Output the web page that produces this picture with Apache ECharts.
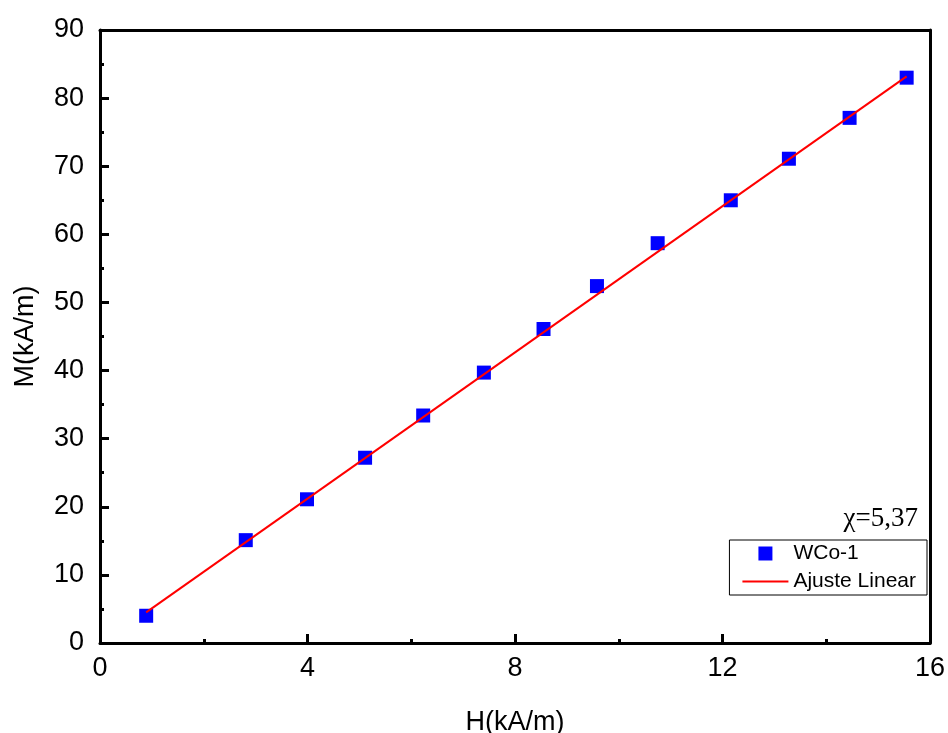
<!DOCTYPE html>
<html>
<head>
<meta charset="utf-8">
<script src="https://cdn.jsdelivr.net/npm/echarts@6/dist/echarts.min.js"></script>
<style>html,body{margin:0;padding:0;background:#fff}#c{width:948px;height:733px}</style>
</head>
<body>
<div id="c"></div>
<script>
const hValues = [0.89, 2.81, 3.99, 5.11, 6.23, 7.40, 8.55, 9.58, 10.75, 12.16, 13.28, 14.45, 15.55];
const mValues = [4.0, 15.1, 21.1, 27.2, 33.4, 39.7, 46.1, 52.4, 58.7, 65.0, 71.1, 77.1, 83.0];
const fitH = [0.89, 15.55];
const fitM = [4.5, 83.2];
const seriesNames = ['WCo-1', 'Ajuste Linear'];
const xTitle = 'H(kA/m)';
const yTitle = 'M(kA/m)';
const annotation = 'χ=5,37';

const font = 'Liberation Sans, Arial, sans-serif';
const chart = echarts.init(document.getElementById('c'));
chart.setOption({
  animation: false,
  backgroundColor: '#fff',
  grid: { left: 100, right: 18, top: 30, bottom: 90, containLabel: false, outerBoundsMode: 'none' },
  legend: {
    orient: 'vertical',
    right: 21, top: 540,
    padding: [3, 11, 3, 13],
    borderColor: '#000', borderWidth: 1,
    itemWidth: 46, itemHeight: 14, itemGap: 7,
    textStyle: { fontFamily: font, fontSize: 21, color: '#000' },
    data: [
      { name: seriesNames[0], icon: 'path://M0,0h1v1h-1z' },
      { name: seriesNames[1], icon: 'path://M0,0h46v2h-46z' }
    ]
  },
  xAxis: [{
    type: 'value', min: 0, max: 16, interval: 4,
    name: xTitle, nameLocation: 'middle', nameGap: 66,
    nameTextStyle: { fontFamily: font, fontSize: 27, color: '#000' },
    axisLine: { onZero: false, lineStyle: { color: '#000', width: 3 } },
    axisTick: { inside: true, length: 9, lineStyle: { color: '#000', width: 3 } },
    minorTick: { show: true, splitNumber: 2, length: 4, lineStyle: { color: '#000', width: 3 } },
    axisLabel: { fontFamily: font, fontSize: 27, color: '#000', margin: 12 },
    splitLine: { show: false }
  }, {
    type: 'value', min: 0, max: 16, position: 'top',
    axisLine: { onZero: false, lineStyle: { color: '#000', width: 3 } },
    axisTick: { show: false }, axisLabel: { show: false }, splitLine: { show: false }
  }],
  yAxis: [{
    type: 'value', min: 0, max: 90, interval: 10,
    name: yTitle, nameLocation: 'middle', nameGap: 61,
    nameTextStyle: { fontFamily: font, fontSize: 27, color: '#000' },
    axisLine: { show: true, onZero: false, lineStyle: { color: '#000', width: 3 } },
    axisTick: { show: true, inside: true, length: 9, lineStyle: { color: '#000', width: 3 } },
    minorTick: { show: true, splitNumber: 2, length: 4, lineStyle: { color: '#000', width: 3 } },
    axisLabel: { fontFamily: font, fontSize: 27, color: '#000', margin: 16 },
    splitLine: { show: false }
  }, {
    type: 'value', min: 0, max: 90, position: 'right',
    axisLine: { show: true, onZero: false, lineStyle: { color: '#000', width: 3 } },
    axisTick: { show: false }, axisLabel: { show: false }, splitLine: { show: false }
  }],
  series: [{
    name: seriesNames[0], type: 'scatter',
    symbol: 'rect', symbolSize: 14,
    itemStyle: { color: '#0000ff', opacity: 1 },
    data: hValues.map((h, i) => [h, mValues[i]]),
    z: 3
  }, {
    name: seriesNames[1], type: 'line',
    symbol: 'none', showSymbol: false,
    lineStyle: { color: '#ff0000', width: 2 },
    itemStyle: { color: '#ff0000' },
    data: fitH.map((h, i) => [h, fitM[i]]),
    z: 4
  }],
  graphic: [{
    type: 'text', right: 30, top: 505,
    style: { text: annotation, font: '27px "Liberation Serif", "Times New Roman", serif', fill: '#000' }
  }]
});
</script>
</body>
</html>
